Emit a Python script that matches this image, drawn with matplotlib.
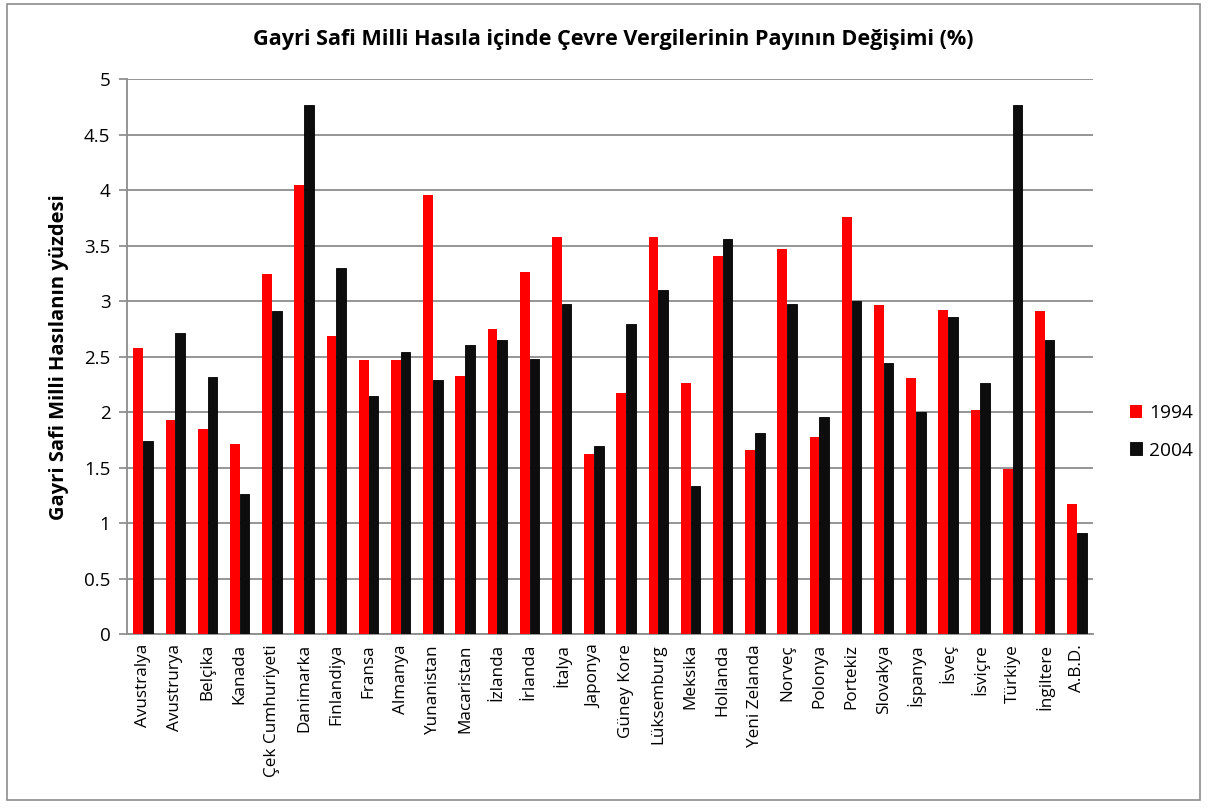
import matplotlib
matplotlib.use("Agg")
import matplotlib.pyplot as plt
import numpy as np
from matplotlib.patches import Rectangle

countries = ["Avustralya", "Avustrurya", "Belçika", "Kanada", "Çek Cumhuriyeti",
             "Danimarka", "Finlandiya", "Fransa", "Almanya", "Yunanistan",
             "Macaristan", "İzlanda", "İrlanda", "İtalya", "Japonya",
             "Güney Kore", "Lüksemburg", "Meksika", "Hollanda", "Yeni Zelanda",
             "Norveç", "Polonya", "Portekiz", "Slovakya", "İspanya",
             "İsveç", "İsviçre", "Türkiye", "İngiltere", "A.B.D."]

# 1994 ve 2004 degerleri (GSMH yuzdesi)
val_1994 = [2.58, 1.93, 1.85, 1.71, 3.25, 4.05, 2.69, 2.47, 2.47, 3.96,
            2.33, 2.75, 3.26, 3.58, 1.62, 2.17, 3.58, 2.26, 3.41, 1.66,
            3.47, 1.78, 3.76, 2.97, 2.31, 2.92, 2.02, 1.49, 2.91, 1.17]
val_2004 = [1.74, 2.71, 2.32, 1.26, 2.91, 4.77, 3.30, 2.15, 2.54, 2.29,
            2.61, 2.65, 2.48, 2.98, 1.70, 2.80, 3.10, 1.34, 3.56, 1.81,
            2.98, 1.96, 3.00, 2.44, 2.00, 2.86, 2.26, 4.77, 2.65, 0.91]
series_names = ["1994", "2004"]
yticks = [0, 0.5, 1, 1.5, 2, 2.5, 3, 3.5, 4, 4.5, 5]
ytick_labels = ["0", "0.5", "1", "1.5", "2", "2.5", "3", "3.5", "4", "4.5", "5"]

plt.rcParams['font.family'] = ['Open Sans', 'DejaVu Sans']

fig = plt.figure(figsize=(12.1, 8.1), dpi=100)
ax = fig.add_axes([127 / 1210, 1 - 634.3 / 810, (1093 - 127) / 1210, (634.3 - 79.3) / 810])

x = np.arange(len(countries))
w = 0.30
ax.bar(x - w / 2, val_1994, w, color="#ff0000", label=series_names[0], zorder=3)
ax.bar(x + w / 2, val_2004, w, color="#0d0d0d", edgecolor="#000000", linewidth=0.6,
       label=series_names[1], zorder=3)

ax.set_xlim(-0.5, len(countries) - 0.5)
ax.set_ylim(0, 5)
ax.set_yticks(yticks)
ax.set_yticklabels(ytick_labels, fontsize=13.5)
ax.set_xticks(x)
ax.set_xticklabels(countries, rotation=90, fontsize=12.3)
ax.tick_params(axis="x", length=0, pad=7)
ax.tick_params(axis="y", length=6, width=1.2, color="#888888", pad=6)
ax.yaxis.grid(True, color="#8c8c8c", linewidth=1.3, zorder=0)
ax.set_axisbelow(True)
for side in ["top", "right"]:
    ax.spines[side].set_visible(False)
for side in ["left", "bottom"]:
    ax.spines[side].set_color("#8c8c8c")
    ax.spines[side].set_linewidth(1.3)

ax.set_ylabel("Gayri Safi Milli Hasılanın yüzdesi", fontsize=14.5, fontweight="bold", labelpad=11)
fig.text(0.5065, 1 - 40 / 810, "Gayri Safi Milli Hasıla içinde Çevre Vergilerinin Payının Değişimi (%)",
         ha="center", va="center", fontsize=15.6, fontweight="bold")

ax.legend(loc="center left", bbox_to_anchor=(1.02, 0.3645), frameon=False, fontsize=13.8,
          handlelength=0.65, handleheight=0.65, labelspacing=1.0, handletextpad=0.35)

fig.patches.append(Rectangle((7 / 1210, 1 - 800 / 810), 1193 / 1210, 796 / 810,
                             transform=fig.transFigure, fill=False,
                             edgecolor="#8c8c8c", linewidth=1.2))

fig.savefig("out.png", dpi=100)
